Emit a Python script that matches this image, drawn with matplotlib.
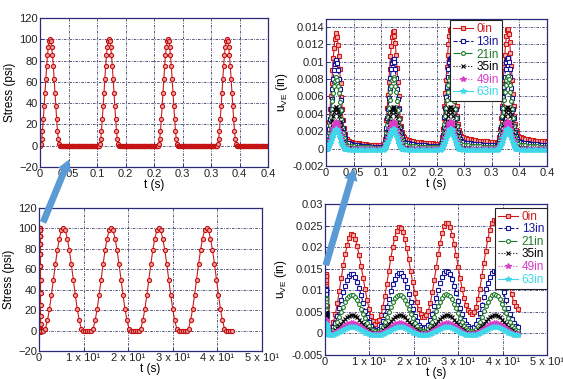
import matplotlib.pyplot as plt
import numpy as np
from matplotlib.patches import FancyArrowPatch

plt.rcParams['font.family'] = ['Liberation Sans', 'DejaVu Sans']

# ---- fast loading (0 - 0.4 s), four haversine pulses + rest ----
fast_starts = [0.0, 0.1035, 0.207, 0.3105]
fast_dt = 0.00146          # sample step within a pulse
fast_period = 0.1035

stress_pulse = [0, 2, 6, 14, 25, 37, 50, 63, 75, 85, 93, 98, 100, 98, 93, 85,
                75, 63, 50, 37, 25, 14, 6, 2, 0]
stress_rest = [0] * 44

# u_VE during a pulse / during the rest period, and drift of each cycle
u0_pulse = [0.0, 0.0003, 0.0009, 0.0019, 0.0031, 0.0045, 0.0060, 0.0075, 0.0090, 0.0104, 0.0116, 0.0126,
            0.0132, 0.0133, 0.0128, 0.0119, 0.0106, 0.0091, 0.0075, 0.0059, 0.0045, 0.0033, 0.0024, 0.0017, 0.0013]
u0_rest = [0.0011, 0.0009, 0.0008, 0.0007, 0.00065, 0.0006, 0.00056, 0.00052, 0.0005, 0.00047, 0.00044,
           0.00042, 0.0004, 0.00038, 0.00036, 0.00035]
u0_shift = [0.0, 0.0002, 0.0004, 0.0004]

u13_pulse = [0.0, 0.0002, 0.0007, 0.0014, 0.0023, 0.0034, 0.0045, 0.0057, 0.0069, 0.0080, 0.0090, 0.0097,
             0.0101, 0.0102, 0.0098, 0.0090, 0.0080, 0.0068, 0.0056, 0.0044, 0.0033, 0.0024, 0.0017, 0.0012, 0.0009]
u13_rest = [0.0007, 0.0006, 0.0005, 0.00045, 0.0004, 0.00036, 0.00033, 0.0003, 0.00028, 0.00026, 0.00024,
            0.00022, 0.0002, 0.00019, 0.00018, 0.00017]
u13_shift = [0.0, 0.0001, 0.0002, 0.0002]

u21_pulse = [0.0, 0.0002, 0.0005, 0.0011, 0.0018, 0.0027, 0.0036, 0.0046, 0.0055, 0.0064, 0.0072, 0.0078,
             0.0081, 0.0082, 0.0079, 0.0072, 0.0064, 0.0054, 0.0044, 0.0034, 0.0025, 0.0018, 0.0012, 0.0008, 0.0006]
u21_rest = [0.0004, 0.00035, 0.0003, 0.00026, 0.00023, 0.0002, 0.00018, 0.00016, 0.00015, 0.00014, 0.00013,
            0.00012, 0.00011, 0.0001, 0.0001, 0.0001]
u21_shift = [0.0, 0.00005, 0.0001, 0.0001]

u35_pulse = [0.0, 0.0001, 0.0003, 0.0006, 0.0010, 0.0015, 0.0021, 0.0027, 0.0032, 0.0038, 0.0042, 0.0046,
             0.0048, 0.0048, 0.0046, 0.0042, 0.0037, 0.0031, 0.0025, 0.0019, 0.0014, 0.0009, 0.0006, 0.0003, 0.0002]
u35_rest = [0.0001, 0.00005, 0.00003, 0.00002, 0.00001, 0.0, 0.0, 0.0, 0.0, 0.0, 0.0, 0.0, 0.0, 0.0, 0.0, 0.0]
u35_shift = [0.0, 0.0, 0.0, 0.0]

u49_pulse = [0.0, 0.0001, 0.0002, 0.0004, 0.0007, 0.0010, 0.0013, 0.0017, 0.0021, 0.0024, 0.0027, 0.0029,
             0.0031, 0.0031, 0.0029, 0.0026, 0.0023, 0.0019, 0.0015, 0.0011, 0.0008, 0.0005, 0.0003, 0.0001, 0.0]
u49_rest = [-0.00005, -0.00008, -0.0001, -0.0001, -0.0001, -0.0001, -0.0001, -0.0001, -0.0001, -0.0001,
            -0.0001, -0.0001, -0.0001, -0.0001, -0.0001, -0.0001]
u49_shift = [0.0, 0.0, 0.0, 0.0]

u63_pulse = [0.0, 0.0, 0.0001, 0.0003, 0.0005, 0.0007, 0.0009, 0.0012, 0.0014, 0.0017, 0.0019, 0.0021,
             0.0022, 0.0022, 0.0021, 0.0019, 0.0016, 0.0013, 0.0010, 0.0007, 0.0005, 0.0003, 0.0001, 0.0, -0.0001]
u63_rest = [-0.0001, -0.00015, -0.0002, -0.0002, -0.0002, -0.0002, -0.0002, -0.0002, -0.0002, -0.0002,
            -0.0002, -0.0002, -0.0002, -0.0002, -0.0002, -0.0002]
u63_shift = [0.0, 0.0, 0.0, 0.0]

# ---- slow loading (after 1 s), one cycle, plus drift per cycle ----
slow_starts = [1.0, 11.7, 22.4, 33.1]
slow_dt = 0.446

stress_slow = [0, 2, 10, 21, 35, 50, 65, 79, 90, 98, 100, 98, 90, 79, 65, 50, 35, 21, 10, 2, 0, 0, 0, 0]

u0_slow = [0.0, 0.0004, 0.0015, 0.0033, 0.0058, 0.0087, 0.0117, 0.0146, 0.0172, 0.0194, 0.0210, 0.0218,
           0.0217, 0.0208, 0.0191, 0.0169, 0.0144, 0.0117, 0.0091, 0.0066, 0.0045, 0.0028, 0.0017, 0.0011]
u0_slow_shift = [0.0012, 0.0028, 0.0038, 0.0046]
u13_slow = [0.0, 0.0002, 0.0008, 0.0019, 0.0034, 0.0052, 0.0071, 0.0089, 0.0105, 0.0118, 0.0127, 0.0132,
            0.0131, 0.0125, 0.0114, 0.0099, 0.0082, 0.0064, 0.0047, 0.0032, 0.0020, 0.0011, 0.0005, 0.0001]
u13_slow_shift = [0.0006, 0.0009, 0.0012, 0.0013]
u21_slow = [0.0, 0.0001, 0.0005, 0.0012, 0.0022, 0.0034, 0.0046, 0.0058, 0.0069, 0.0077, 0.0083, 0.0086,
            0.0085, 0.0081, 0.0074, 0.0064, 0.0053, 0.0042, 0.0031, 0.0021, 0.0013, 0.0007, 0.0003, 0.0001]
u21_slow_shift = [0.0004, 0.0004, 0.0005, 0.0005]
u35_slow = [0.0, 0.0001, 0.0003, 0.0006, 0.0011, 0.0016, 0.0022, 0.0028, 0.0033, 0.0037, 0.0040, 0.0042,
            0.0042, 0.0040, 0.0036, 0.0031, 0.0026, 0.0020, 0.0015, 0.0010, 0.0006, 0.0003, 0.0001, 0.0]
u35_slow_shift = [0.0001, 0.0001, 0.0001, 0.0001]
u49_slow = [0.0, 0.0, 0.0002, 0.0004, 0.0007, 0.0010, 0.0013, 0.0017, 0.0020, 0.0023, 0.0025, 0.0026,
            0.0026, 0.0025, 0.0022, 0.0019, 0.0016, 0.0012, 0.0009, 0.0006, 0.0003, 0.0001, 0.0, 0.0]
u49_slow_shift = [-0.0002, -0.0002, -0.0002, -0.0002]
u63_slow = [0.0, 0.0, 0.0001, 0.0003, 0.0005, 0.0007, 0.0010, 0.0012, 0.0015, 0.0017, 0.0018, 0.0019,
            0.0019, 0.0018, 0.0016, 0.0014, 0.0011, 0.0009, 0.0006, 0.0004, 0.0002, 0.0001, 0.0, 0.0]
u63_slow_shift = [-0.0004, -0.0004, -0.0004, -0.0004]

depths = ['0in', '13in', '21in', '35in', '49in', '63in']
fast_series = [(u0_pulse, u0_rest, u0_shift), (u13_pulse, u13_rest, u13_shift),
               (u21_pulse, u21_rest, u21_shift), (u35_pulse, u35_rest, u35_shift),
               (u49_pulse, u49_rest, u49_shift), (u63_pulse, u63_rest, u63_shift)]
slow_series = [(u0_slow, u0_slow_shift), (u13_slow, u13_slow_shift), (u21_slow, u21_slow_shift),
               (u35_slow, u35_slow_shift), (u49_slow, u49_slow_shift), (u63_slow, u63_slow_shift)]

colors = ['#d01818', '#14149a', '#1f7a2a', '#000000', '#d83cc8', '#3ed8ea']
styles = ['-', '--', '-.', ':', ':', '-']
markers = ['s', 's', 'o', 'x', '*', '*']


def fast_curve(pulse, rest, shift):
    t, y = [], []
    n = len(pulse)
    for k, s in enumerate(fast_starts):
        t.append(s + fast_dt * np.arange(n))
        t.append(np.linspace(s + fast_dt * n + 0.001, s + fast_period - 0.001, len(rest)))
        y.append(np.array(pulse) + shift[k])
        y.append(np.array(rest) + shift[k])
    return np.concatenate(t), np.concatenate(y)


def slow_curve(cycle, shift):
    t, y = [], []
    for k, s in enumerate(slow_starts):
        t.append(s + slow_dt * np.arange(len(cycle)))
        y.append(np.array(cycle) + shift[k])
    return np.concatenate(t), np.concatenate(y)


W, H = 563, 379
fig = plt.figure(figsize=(W / 100, H / 100), dpi=100)


def add_axes(l, r, top, bottom):
    return fig.add_axes([l / W, 1 - bottom / H, (r - l) / W, (bottom - top) / H])


ax_tl = add_axes(40, 268, 18, 167)
ax_tr = add_axes(326, 547, 19, 166)
ax_bl = add_axes(39, 262, 208, 351)
ax_br = add_axes(325, 547, 204, 355)

frame_col = '#2a2a78'
for ax in [ax_tl, ax_tr, ax_bl, ax_br]:
    for sp in ax.spines.values():
        sp.set_color(frame_col)
        sp.set_linewidth(0.9)
    ax.tick_params(direction='in', length=3, width=0.6, color=frame_col, labelsize=8,
                   labelcolor='#222222', pad=1.5)
    ax.grid(True, color='#3a3a6a', linestyle=(0, (3, 1.5, 1, 1.5)), linewidth=0.6)
    ax.set_axisbelow(True)

fast_ticks = [0, 0.05, 0.1, 0.15, 0.2, 0.25, 0.3, 0.35, 0.4]
fast_ticklabels = ['0', '0.05', '0.1', '0.2', '0.2', '0.3', '0.3', '0.4', '0.4']
slow_ticks = [0, 10, 20, 30, 40, 50]
slow_ticklabels = ['0', '1 x 10\u00b9', '2 x 10\u00b9', '3 x 10\u00b9', '4 x 10\u00b9', '5 x 10\u00b9']

# stress, fast
t_fs, s_fs = fast_curve(stress_pulse, stress_rest, [0, 0, 0, 0])
t_ss, s_ss = slow_curve(stress_slow, [0, 0, 0, 0])
stress_kw = dict(color='#cc1a1a', lw=0.8, marker='o', ms=3.0, mfc='#eba0a0', mec='#c41010', mew=0.8)
ax_tl.plot(t_fs, s_fs, **stress_kw)
ax_tl.set_xlim(0, 0.4)
ax_tl.set_ylim(-20, 120)
ax_tl.set_xticks(fast_ticks)
ax_tl.set_xticklabels(fast_ticklabels)
ax_tl.set_yticks(range(-20, 121, 20))
ax_tl.set_xlabel('t (s)', fontsize=8.5, labelpad=0)
ax_tl.set_ylabel('Stress (psi)', fontsize=8.5, labelpad=2)

ax_bl.plot(np.concatenate([t_fs, t_ss]), np.concatenate([s_fs, s_ss]), **stress_kw)
ax_bl.set_xlim(0, 50)
ax_bl.set_ylim(-20, 120)
ax_bl.set_xticks(slow_ticks)
ax_bl.set_xticklabels(slow_ticklabels)
ax_bl.set_yticks(range(-20, 121, 20))
ax_bl.set_xlabel('t (s)', fontsize=8.5, labelpad=0)
ax_bl.set_ylabel('Stress (psi)', fontsize=8.5, labelpad=2)

# u_VE
lines_tr, lines_br = [], []
for i, name in enumerate(depths):
    tf, yf = fast_curve(*fast_series[i])
    ts, ys = slow_curve(*slow_series[i])
    kw = dict(color=colors[i], ls=styles[i], lw=0.8, marker=markers[i],
              ms=3.8 if markers[i] == '*' else 2.8, mec=colors[i], mew=0.8,
              mfc='white' if markers[i] in ('s', 'o') else colors[i], label=name)
    if i == 0:
        kw['mfc'] = '#f0b0b0'
    lines_tr.append(ax_tr.plot(tf, yf, **kw)[0])
    lines_br.append(ax_br.plot(np.concatenate([tf, ts]), np.concatenate([yf, ys]), **kw)[0])

ax_tr.set_xlim(0, 0.4)
ax_tr.set_ylim(-0.002, 0.0149)
ax_tr.set_xticks(fast_ticks)
ax_tr.set_xticklabels(fast_ticklabels)
ax_tr.set_yticks([-0.002, 0, 0.002, 0.004, 0.006, 0.008, 0.01, 0.012, 0.014])
ax_tr.set_yticklabels(['-0.002', '0', '0.002', '0.004', '0.006', '0.008', '0.01', '0.012', '0.014'])
ax_tr.set_xlabel('t (s)', fontsize=8.5, labelpad=0)
ax_tr.set_ylabel(r'u$_{\mathregular{VE}}$ (in)', fontsize=8.5, labelpad=2)

ax_br.set_xlim(0, 50)
ax_br.set_ylim(-0.005, 0.03)
ax_br.set_xticks(slow_ticks)
ax_br.set_xticklabels(slow_ticklabels)
ax_br.set_yticks([-0.005, 0, 0.005, 0.01, 0.015, 0.02, 0.025, 0.03])
ax_br.set_yticklabels(['-0.005', '0', '0.005', '0.01', '0.015', '0.02', '0.025', '0.03'])
ax_br.set_xlabel('t (s)', fontsize=8.5, labelpad=0)
ax_br.set_ylabel(r'u$_{\mathregular{VE}}$ (in)', fontsize=8.5, labelpad=2)

for ax, lines, anchor in [(ax_tr, lines_tr, (0.795, 0.99)), (ax_br, lines_br, (1.0, 0.975))]:
    leg = ax.legend(handles=lines, loc='upper right', bbox_to_anchor=anchor, fontsize=8.5,
                    frameon=True, fancybox=False, edgecolor='#222222', framealpha=1,
                    borderpad=0.25, labelspacing=0.05, handlelength=1.7, handletextpad=0.3,
                    borderaxespad=0)
    leg.get_frame().set_linewidth(0.8)
    for txt, c in zip(leg.get_texts(), colors):
        txt.set_color(c)

# blue arrows linking zoomed views
arrow_col = '#5b9bd5'
for (x0, y0), (x1, y1) in [((42, 225), (70, 157)), ((325, 268), (355, 166))]:
    arr = FancyArrowPatch((x0 / W, 1 - y0 / H), (x1 / W, 1 - y1 / H), transform=fig.transFigure,
                          arrowstyle='simple,head_width=0.7,head_length=0.6,tail_width=0.35',
                          mutation_scale=14, color=arrow_col, lw=0, zorder=10)
    fig.add_artist(arr)

fig.savefig('out.png', dpi=100)
